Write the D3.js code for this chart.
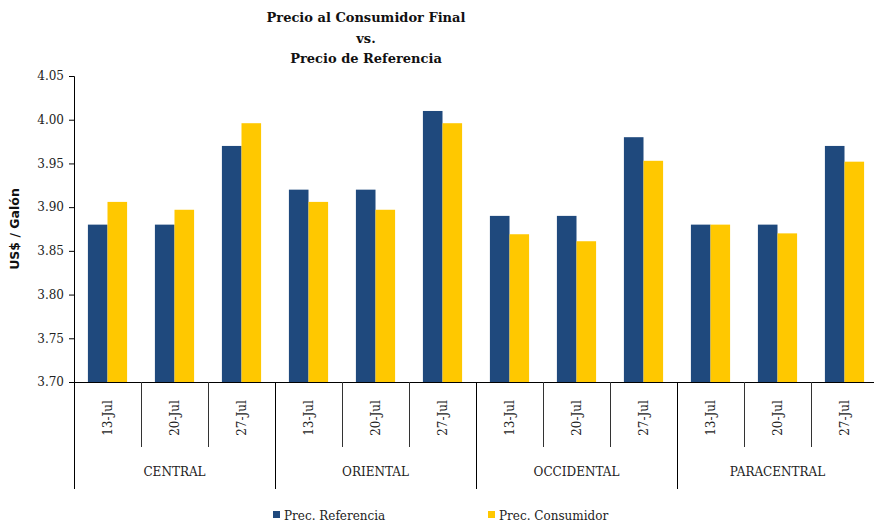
<!DOCTYPE html>
<html>
<head>
<meta charset="utf-8">
<script src="https://cdn.jsdelivr.net/npm/d3@7"></script>
<style>
  body { margin: 0; background: #fff; }
  svg { display: block; }
  .tickLbl { font-family: "DejaVu Serif", serif; font-size: 12px; fill: #222; }
  .title { font-family: "DejaVu Serif", serif; font-size: 13px; font-weight: bold; fill: #111; }
</style>
</head>
<body>
<svg id="chart" width="874" height="523"></svg>
<script>
// regions and weeks shown along the x axis
var regions = ["CENTRAL", "ORIENTAL", "OCCIDENTAL", "PARACENTRAL"]
var weeks = ["13-Jul", "20-Jul", "27-Jul"]
var seriesNames = ["Prec. Referencia", "Prec. Consumidor"]
// values, 4 regions x 3 weeks
var precReferencia = [3.88, 3.88, 3.97, 3.92, 3.92, 4.01, 3.89, 3.89, 3.98, 3.88, 3.88, 3.97]
var precConsumidor = [3.906, 3.897, 3.996, 3.906, 3.897, 3.996, 3.869, 3.861, 3.953, 3.88, 3.87, 3.952]
var yTicks = [3.70, 3.75, 3.80, 3.85, 3.90, 3.95, 4.00, 4.05]
var colors = ["#1f497d", "#ffc800"]

d3.select(window).on('load', main)

function main() {
  let svg = d3.select("#chart")
  let left = 74, right = 878, top = 76, bottom = 382

  let cats = []
  regions.forEach(function(r) {
    weeks.forEach(function(w) { cats.push(r + "|" + w) })
  })

  let xScale = d3.scaleBand().domain(cats).range([left, right])
  let xInner = d3.scaleBand().domain(seriesNames)
    .range([0, xScale.bandwidth()]).paddingInner(0).paddingOuter(0.71)
  let yScale = d3.scaleLinear().domain([3.70, 4.05]).range([bottom, top])

  // bars
  let rows = cats.map(function(c, i) {
    return { cat: c, vals: [precReferencia[i], precConsumidor[i]] }
  })
  let groups = svg.append("g").selectAll("g")
    .data(rows).enter().append("g")
    .attr("transform", d => "translate(" + xScale(d.cat) + ",0)")
  groups.selectAll("rect")
    .data(d => d.vals.map((v, k) => ({ v: v, k: k })))
    .enter().append("rect")
    .attr("x", d => xInner(seriesNames[d.k]))
    .attr("y", d => yScale(d.v))
    .attr("width", xInner.bandwidth())
    .attr("height", d => bottom - yScale(d.v))
    .attr("fill", d => colors[d.k])

  // y axis
  let yAxis = svg.append("g")
    .attr("transform", "translate(" + left + ",0)")
    .call(d3.axisLeft(yScale).tickValues(yTicks).tickFormat(d3.format(".2f")).tickSizeOuter(0).tickSize(5).tickPadding(5))
  yAxis.select(".domain").attr("stroke", "#000")
  yAxis.selectAll("line").attr("stroke", "#000")
  yAxis.selectAll("text").attr("class", "tickLbl").attr("font-family", null).attr("font-size", null)

  svg.append("text")
    .attr("transform", "translate(19," + ((top + bottom) / 2) + ") rotate(-90)")
    .attr("text-anchor", "middle")
    .style("font-family", "'DejaVu Sans', sans-serif")
    .style("font-size", "12.5px").style("font-weight", "bold").style("fill", "#111")
    .text("US$ / Galón")

  // x axis: baseline, separators and two label levels
  let xa = svg.append("g").attr("stroke", "#000").attr("stroke-width", 1)
  xa.append("line").attr("x1", left).attr("x2", right).attr("y1", bottom + 0.5).attr("y2", bottom + 0.5)
  cats.forEach(function(c, i) {
    let x = Math.round(xScale(c)) + 0.5
    let isGroup = i % weeks.length == 0
    xa.append("line").attr("x1", x).attr("x2", x)
      .attr("y1", bottom).attr("y2", isGroup ? 489 : 447)
      .attr("stroke", isGroup ? "#000" : "#333")
  })

  svg.append("g").selectAll("text")
    .data(cats).enter().append("text")
    .attr("class", "tickLbl")
    .attr("transform", d => "translate(" + (xScale(d) + xScale.bandwidth() / 2 + 4) + ",418) rotate(-90)")
    .attr("text-anchor", "middle")
    .text(d => d.split("|")[1])

  svg.append("g").selectAll("text")
    .data(regions).enter().append("text")
    .attr("class", "tickLbl")
    .attr("x", d => xScale(d + "|" + weeks[1]) + xScale.bandwidth() / 2)
    .attr("y", 476)
    .attr("text-anchor", "middle")
    .text(d => d)

  // title
  let titleLines = ["Precio al Consumidor Final", "vs.", "Precio de Referencia"]
  svg.append("g").selectAll("text")
    .data(titleLines).enter().append("text")
    .attr("class", "title")
    .attr("x", 366)
    .attr("y", (d, i) => 22 + i * 20.5)
    .attr("text-anchor", "middle")
    .text(d => d)

  // legend
  let legendX = [273, 488]
  let legend = svg.append("g").selectAll("g")
    .data(seriesNames).enter().append("g")
    .attr("transform", (d, i) => "translate(" + legendX[i] + ",511)")
  legend.append("rect").attr("width", 7).attr("height", 7).attr("fill", (d, i) => colors[i])
  legend.append("text").attr("class", "tickLbl").attr("x", 11).attr("y", 9).text(d => d)
}
</script>
</body>
</html>
